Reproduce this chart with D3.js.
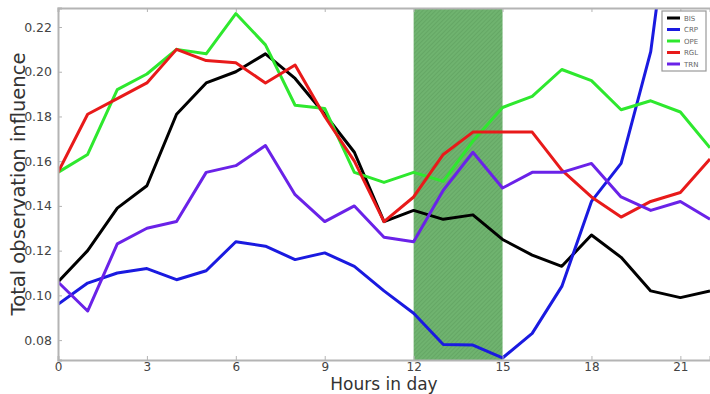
<!DOCTYPE html>
<html>
<head>
<meta charset="utf-8">
<style>
  body { margin: 0; background: #fff; }
  svg { display: block; font-family: "DejaVu Sans", sans-serif; }
</style>
<script src="https://d3js.org/d3.v7.min.js"></script>
</head>
<body>
<svg id="svg" width="710" height="394"></svg>
<script>
// hours 0..22
let hours = d3.range(0, 23);
let bis = [0.106, 0.120, 0.139, 0.149, 0.181, 0.195, 0.200, 0.208, 0.197, 0.181, 0.164, 0.133,
           0.138, 0.134, 0.136, 0.125, 0.118, 0.113, 0.127, 0.117, 0.102, 0.099, 0.102];
let crp = [0.096, 0.1055, 0.110, 0.112, 0.107, 0.111, 0.124, 0.122, 0.116, 0.119, 0.113, 0.102,
           0.092, 0.078, 0.0778, 0.072, 0.083, 0.104, 0.142, 0.159, 0.209, 0.310, 0.340];
let ope = [0.155, 0.163, 0.192, 0.199, 0.210, 0.208, 0.226, 0.212, 0.185, 0.1836, 0.155, 0.1505,
           0.155, 0.151, 0.169, 0.184, 0.189, 0.201, 0.196, 0.183, 0.187, 0.182, 0.166];
let rgl = [0.155, 0.181, 0.188, 0.195, 0.210, 0.205, 0.204, 0.195, 0.203, 0.180, 0.160, 0.133,
           0.144, 0.163, 0.173, 0.173, 0.173, 0.156, 0.144, 0.135, 0.142, 0.146, 0.161];
let trn = [0.106, 0.093, 0.123, 0.130, 0.133, 0.155, 0.158, 0.167, 0.145, 0.133, 0.140, 0.126,
           0.124, 0.147, 0.164, 0.148, 0.155, 0.155, 0.159, 0.144, 0.138, 0.142, 0.134];

let seriesNames = ["BIS", "CRP", "OPE", "RGL", "TRN"];
let seriesValues = [bis, crp, ope, rgl, trn];
let seriesColors = ["#000000", "#1a1ae0", "#2ee82e", "#e81a1a", "#6a22e8"];

let xTicks = [0, 3, 6, 9, 12, 15, 18, 21];
let yTicks = [0.08, 0.10, 0.12, 0.14, 0.16, 0.18, 0.20, 0.22];
let band = [12, 15];

let margin = { left: 58, top: 8, right: 0, bottom: 34 };
let width = 710, height = 394;

let svg = d3.select("#svg");

let x = d3.scaleLinear().domain([0, 22]).range([margin.left, width - margin.right]);
let y = d3.scaleLinear().domain([0.0711, 0.2285]).range([height - margin.bottom, margin.top]);

let defs = svg.append("defs");
defs.append("clipPath").attr("id", "clip")
  .append("rect")
  .attr("x", margin.left).attr("y", margin.top)
  .attr("width", width - margin.right - margin.left)
  .attr("height", height - margin.bottom - margin.top);

let pat = defs.append("pattern")
  .attr("id", "hatch")
  .attr("patternUnits", "userSpaceOnUse")
  .attr("width", 3).attr("height", 3)
  .attr("patternTransform", "rotate(45)");
pat.append("rect").attr("width", 3).attr("height", 3).attr("fill", "#6fb36f");
pat.append("line").attr("x1", 0).attr("y1", 0).attr("x2", 0).attr("y2", 3)
  .attr("stroke", "#5a9c5a").attr("stroke-width", 1);

// shaded band
svg.append("rect")
  .attr("x", x(band[0]))
  .attr("y", margin.top)
  .attr("width", x(band[1]) - x(band[0]))
  .attr("height", y.range()[0] - margin.top)
  .attr("fill", "url(#hatch)");

// lines
let line = d3.line()
  .x(function (d, i) { return x(hours[i]) })
  .y(function (d) { return y(d) });

svg.append("g").attr("clip-path", "url(#clip)")
  .selectAll("path")
  .data(seriesValues)
  .enter()
  .append("path")
  .attr("d", line)
  .attr("fill", "none")
  .attr("stroke", function (d, i) { return seriesColors[i] })
  .attr("stroke-width", 3)
  .attr("stroke-linejoin", "round");

// axes
let axisColor = "#b4b4b4";
let xAxis = svg.append("g")
  .attr("transform", "translate(0," + y.range()[0] + ")")
  .call(d3.axisBottom(x).tickValues(xTicks).tickFormat(d3.format("d")).tickSize(-4).tickPadding(2));
let yAxis = svg.append("g")
  .attr("transform", "translate(" + margin.left + ",0)")
  .call(d3.axisLeft(y).tickValues(yTicks).tickFormat(d3.format(".2f")).tickSize(-4).tickPadding(6));
let xTop = svg.append("g")
  .attr("transform", "translate(0," + margin.top + ")")
  .call(d3.axisTop(x).tickValues(xTicks).tickFormat("").tickSize(-4));

[xAxis, yAxis, xTop].forEach(function (g) {
  g.select(".domain").attr("stroke", axisColor).attr("stroke-width", 2);
  g.selectAll(".tick line").attr("stroke", axisColor);
  g.selectAll(".tick text").attr("fill", "#444").style("font-size", "12.5px")
    .style("font-family", "'DejaVu Sans', sans-serif");
});
xAxis.selectAll(".tick text").style("font-size", "12px");

// axis labels
svg.append("text")
  .attr("x", (margin.left + width - margin.right) / 2)
  .attr("y", 389.8)
  .attr("text-anchor", "middle")
  .attr("fill", "#333")
  .style("font-size", "17px")
  .text("Hours in day");

svg.append("text")
  .attr("transform", "translate(25," + (margin.top + y.range()[0]) / 2 + ") rotate(-90)")
  .attr("text-anchor", "middle")
  .attr("fill", "#333")
  .style("font-size", "19.5px")
  .text("Total observation influence");

// legend
let lg = svg.append("g").attr("transform", "translate(662,11)");
lg.append("rect")
  .attr("width", 44).attr("height", 60)
  .attr("fill", "#fff").attr("stroke", "#999").attr("stroke-width", 1.2);
let rows = lg.selectAll("g.row")
  .data(seriesNames)
  .enter()
  .append("g")
  .attr("transform", function (d, i) { return "translate(0," + (7 + i * 11.5) + ")" });
rows.append("line")
  .attr("x1", 5).attr("x2", 18)
  .attr("stroke", function (d, i) { return seriesColors[i] })
  .attr("stroke-width", 3);
rows.append("text")
  .attr("x", 22).attr("y", 2.5)
  .attr("fill", "#666")
  .style("font-size", "7px")
  .text(function (d) { return d });
</script>
</body>
</html>
